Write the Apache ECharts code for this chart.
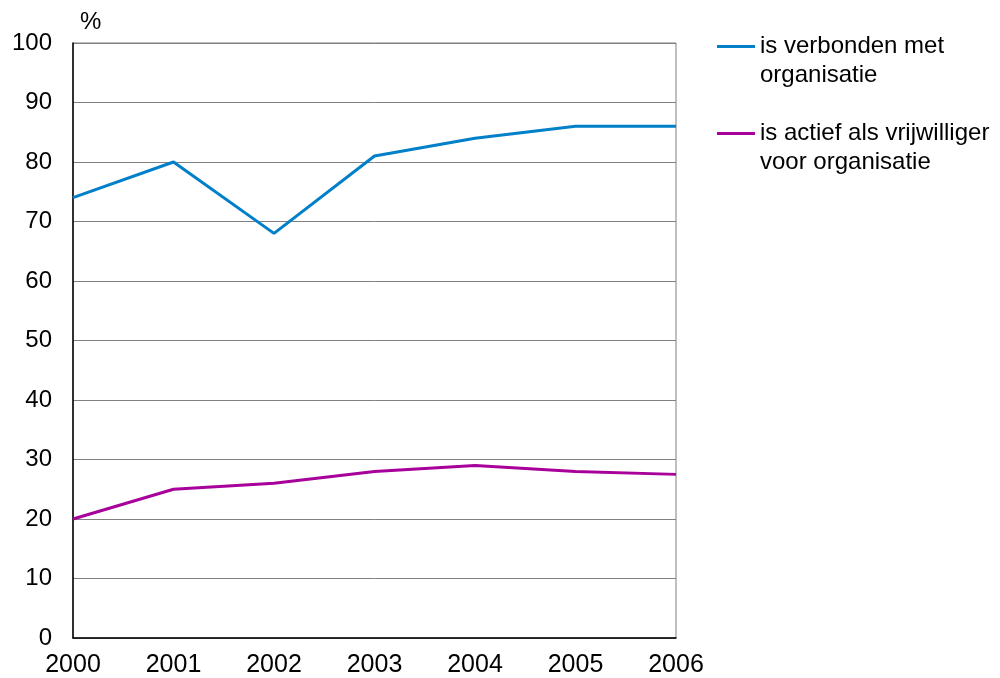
<!DOCTYPE html>
<html>
<head>
<meta charset="utf-8">
<script src="https://cdn.jsdelivr.net/npm/echarts@6/dist/echarts.min.js"></script>
<style>
  html, body { margin: 0; padding: 0; background: #fff; }
  #chart { width: 1000px; height: 678px; }
</style>
</head>
<body>
<div id="chart"></div>
<script>
// data
const years = ['2000', '2001', '2002', '2003', '2004', '2005', '2006'];
const verbonden = [74, 80, 68, 81, 84, 86, 86];
const vrijwilliger = [20, 25, 26, 28, 29, 28, 27.5];
const seriesNames = ['is verbonden met\norganisatie', 'is actief als vrijwilliger\nvoor organisatie'];
const colors = ['#0080C8', '#A8009A'];

const font = 'Liberation Sans, Arial, sans-serif';
const chart = echarts.init(document.getElementById('chart'));

const option = {
    animation: false,
    color: colors,
    grid: {
        left: 73,
        top: 43,
        width: 603,
        height: 595,
        show: true,
        borderColor: '#808080',
        borderWidth: 1
    },
    legend: {
        orient: 'vertical',
        left: 717,
        top: 3,
        padding: 0,
        icon: 'rect',
        itemWidth: 38,
        itemHeight: 3,
        itemGap: 0,
        // blank first line so the icon sits next to the first text line
        formatter: name => '\n' + name,
        textStyle: {
            fontFamily: font,
            fontSize: 24,
            color: '#000',
            lineHeight: 29
        },
        data: seriesNames
    },
    xAxis: {
        type: 'category',
        data: years,
        boundaryGap: false,
        axisLine: { lineStyle: { color: '#000', width: 1.5 } },
        axisTick: { show: false },
        axisLabel: { fontFamily: font, fontSize: 25, color: '#000', margin: 15 },
        splitLine: { show: false }
    },
    yAxis: {
        type: 'value',
        min: 0,
        max: 100,
        interval: 10,
        name: '%',
        nameLocation: 'end',
        nameGap: 9,
        nameTextStyle: { fontFamily: font, fontSize: 24, color: '#000', align: 'left', padding: [0, 0, 0, 7] },
        axisLine: { show: true, lineStyle: { color: '#000', width: 1.5 } },
        axisTick: { show: false },
        axisLabel: { fontFamily: font, fontSize: 24, color: '#000', margin: 21 },
        splitLine: { lineStyle: { color: '#808080', width: 1 } }
    },
    series: [
        {
            name: seriesNames[0],
            type: 'line',
            data: verbonden,
            symbol: 'none',
            lineStyle: { width: 3 }
        },
        {
            name: seriesNames[1],
            type: 'line',
            data: vrijwilliger,
            symbol: 'none',
            lineStyle: { width: 3 }
        }
    ]
};
chart.setOption(option);
</script>
</body>
</html>
